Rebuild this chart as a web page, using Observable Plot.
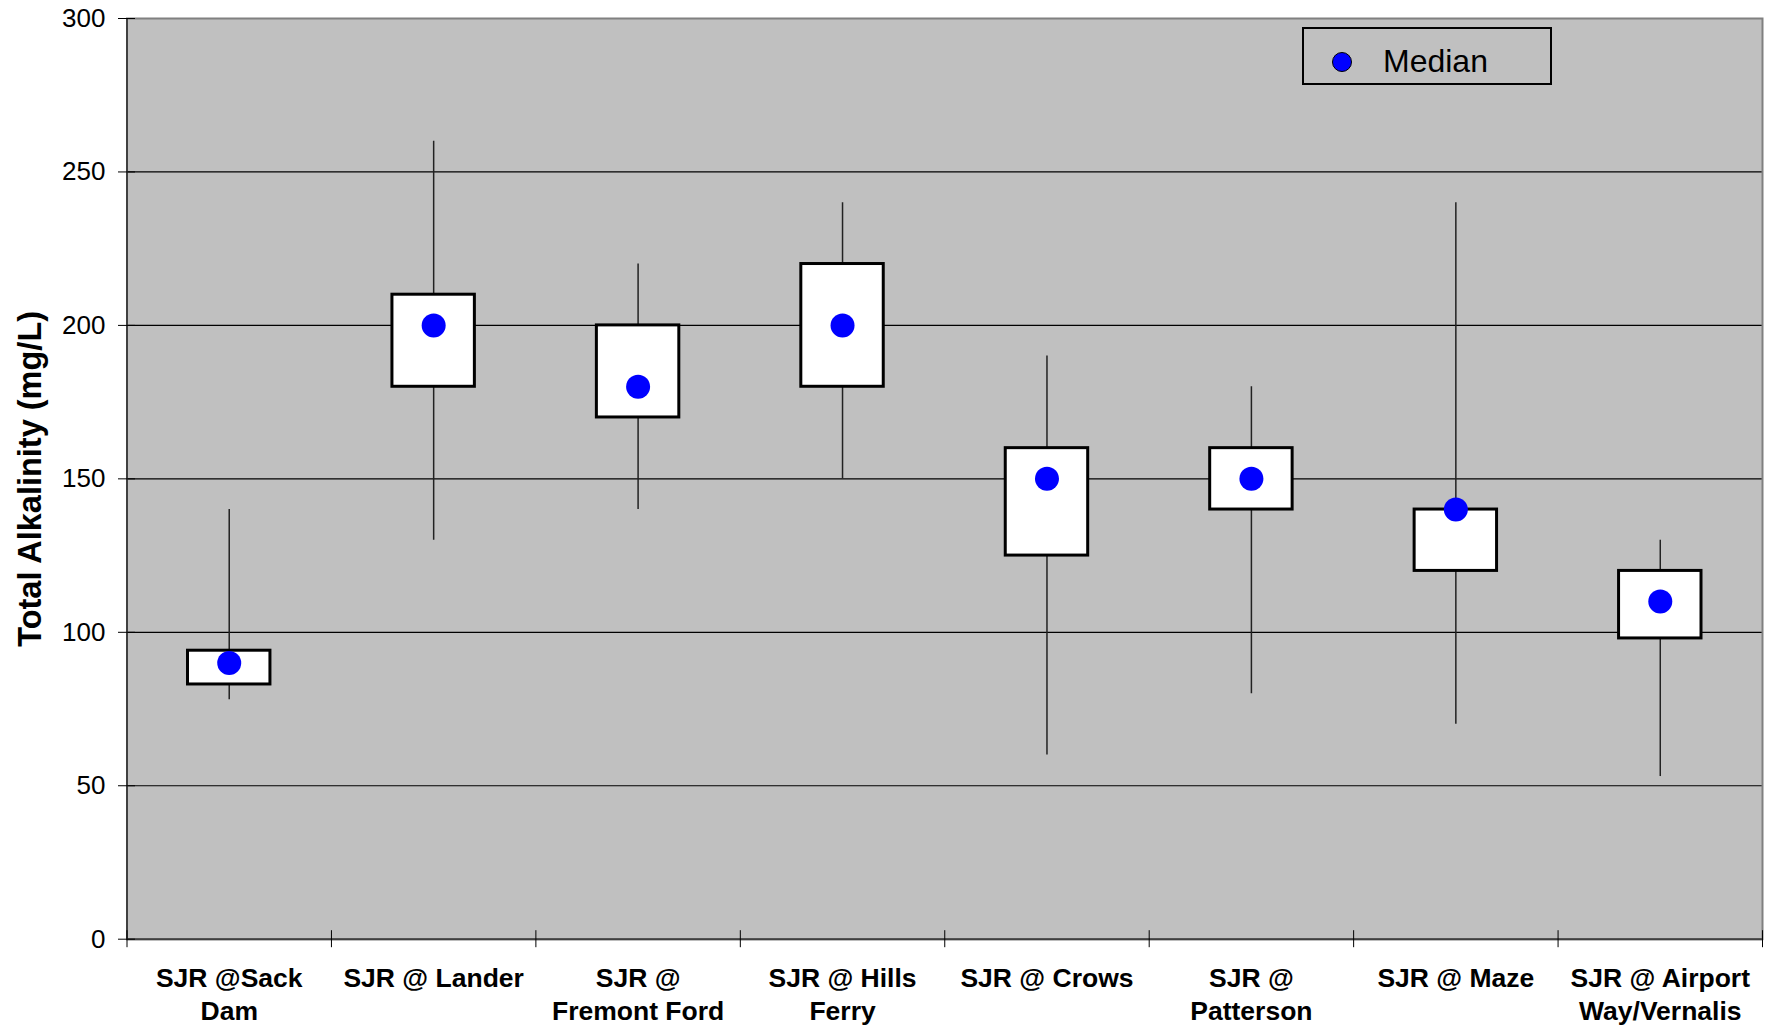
<!DOCTYPE html>
<html>
<head>
<meta charset="utf-8">
<script src="https://cdn.jsdelivr.net/npm/d3@7"></script>
<script src="https://cdn.jsdelivr.net/npm/@observablehq/plot@0.6"></script>
<style>
  body { margin: 0; background: #fff; font-family: "Liberation Sans", Arial, sans-serif; }
  #wrap { position: relative; width: 1772px; height: 1029px; }
  #legend { position: absolute; left: 1302px; top: 27px; width: 250px; height: 58px; border: 2px solid #000; box-sizing: border-box; }
  #legend .dot { position: absolute; left: 28px; top: 23px; width: 20px; height: 20px; border-radius: 50%; background: #0000FF; border: 1.5px solid #000; box-sizing: border-box; }
  #legend .lbl { position: absolute; left: 79px; top: 5px; height: 54px; line-height: 54px; font-size: 32px; color: #000; }
</style>
</head>
<body>
<div id="wrap"></div>
<script>
const sites = ["SJR @Sack\nDam", "SJR @ Lander", "SJR @\nFremont Ford", "SJR @ Hills\nFerry", "SJR @ Crows", "SJR @\nPatterson", "SJR @ Maze", "SJR @ Airport\nWay/Vernalis"];
const minVals    = [78, 130, 140, 150, 60, 80, 70, 53];
const q1Vals     = [83, 180, 170, 180, 125, 140, 120, 98];
const medianVals = [90, 200, 180, 200, 150, 150, 140, 110];
const q3Vals     = [94, 210, 200, 220, 160, 160, 140, 120];
const maxVals    = [140, 260, 220, 240, 190, 180, 240, 130];
const yTicks = [0, 50, 100, 150, 200, 250, 300];
const yLabel = "Total Alkalinity (mg/L)";
const legendLabel = "Median";

const rows = sites.map((site, i) => ({site, i, min: minVals[i], q1: q1Vals[i], median: medianVals[i], q3: q3Vals[i], max: maxVals[i]}));
const bounds = d3.range(sites.length + 1);
const centers = rows.map(d => d.i + 0.5);

const chart = Plot.plot({
  width: 1772,
  height: 1029,
  marginLeft: 126.5,
  marginRight: 10,
  marginTop: 18,
  marginBottom: 90.3,
  style: {fontFamily: "Liberation Sans, Arial, sans-serif", background: "white", color: "black"},
  x: {type: "linear", domain: [0, sites.length], axis: null, label: null},
  y: {domain: [0, 300], axis: null, label: null},
  marks: [
    Plot.frame({fill: "#C0C0C0", stroke: "none"}),
    Plot.gridY(yTicks.filter(v => v > 0 && v < 300), {stroke: "#000", strokeOpacity: 1, strokeWidth: 1.2}),
    Plot.ruleX(rows, {x: d => d.i + 0.5, y1: "min", y2: "max", stroke: "#222", strokeWidth: 1.5}),
    Plot.rect(rows, {x1: "i", x2: d => d.i + 1, y1: "q1", y2: "q3", insetLeft: 61, insetRight: 61, fill: "white", stroke: "black", strokeWidth: 3}),
    Plot.dot(rows, {x: d => d.i + 0.5, y: "median", r: 12, fill: "#0000FF", stroke: "none"}),
    Plot.frame({stroke: "#808080", strokeWidth: 2}),
    Plot.ruleX([0], {stroke: "#404040", strokeWidth: 2}),
    Plot.ruleY([0], {stroke: "#404040", strokeWidth: 2}),
    Plot.axisY(yTicks, {anchor: "left", tickSize: 17, dx: 8.5, fill: "none", stroke: "#000", label: null}),
    Plot.axisY(yTicks, {anchor: "left", tickSize: 0, tickPadding: 21.5, fontSize: 26, label: null}),
    Plot.axisX(bounds, {anchor: "bottom", tickSize: 17, dy: -8.5, fill: "none", stroke: "#000", label: null}),
    Plot.axisX(centers, {anchor: "bottom", tickSize: 0, tickPadding: 24, fontSize: 26.5, fontWeight: "bold", lineHeight: 1.26, label: null,
      tickFormat: v => sites[Math.round(v - 0.5)]}),
    Plot.text([yLabel], {text: d => d, frameAnchor: "left", textAnchor: "middle", lineAnchor: "middle", rotate: -90, dx: -96, fontSize: 32.5, fontWeight: "bold"})
  ]
});

const wrap = document.getElementById("wrap");
wrap.appendChild(chart);
const legend = document.createElement("div");
legend.id = "legend";
legend.innerHTML = `<span class="dot"></span><span class="lbl"></span>`;
legend.querySelector(".lbl").textContent = legendLabel;
wrap.appendChild(legend);
</script>
</body>
</html>
